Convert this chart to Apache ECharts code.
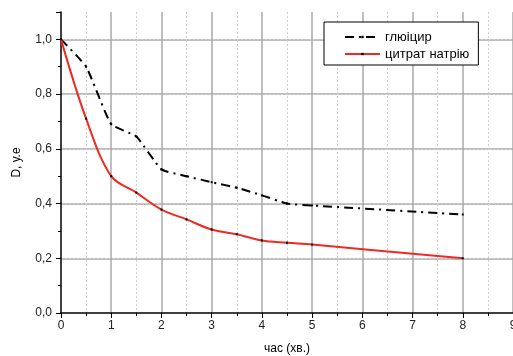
<!DOCTYPE html>
<html>
<head>
<meta charset="utf-8">
<script src="https://cdn.jsdelivr.net/npm/echarts@6/dist/echarts.min.js"></script>
<style>
  html, body { margin: 0; padding: 0; background: #fff; }
  #chart { width: 513px; height: 356px; }
</style>
</head>
<body>
<div id="chart"></div>
<script>
// час (хв.)
const times = [0, 0.5, 1, 1.5, 2, 2.5, 3, 3.5, 4, 4.5, 5, 8];
// D, у.е
const glycerol = [1.0, 0.9, 0.69, 0.645, 0.525, 0.5, 0.478, 0.458, 0.43, 0.4, 0.393, 0.36];
const citrate = [1.0, 0.71, 0.5, 0.44, 0.378, 0.342, 0.305, 0.288, 0.265, 0.257, 0.25, 0.2];
const seriesNames = ["глюіцир", "цитрат натрію"];

const font = "Liberation Sans, Arial, sans-serif";
const pairs = (ys) => times.map((t, i) => [t, ys[i]]);
const fmt = (v) => (Math.abs(v * 5 - Math.round(v * 5)) < 1e-6 ? v.toFixed(1).replace(".", ",") : "");

const chart = echarts.init(document.getElementById("chart"));

chart.setOption({
  animation: false,
  grid: { left: 61, right: 0, top: 12, bottom: 43, outerBoundsMode: "none" },
  legend: {
    orient: "vertical",
    left: 324,
    top: 22,
    padding: [8, 9, 4, 20],
    itemGap: 3,
    itemWidth: 35,
    itemHeight: 3,
    backgroundColor: "#fff",
    borderColor: "#000",
    borderWidth: 1,
    textStyle: { fontFamily: font, fontSize: 13, color: "#000", lineHeight: 14 },
    data: seriesNames
  },
  xAxis: {
    type: "value",
    min: 0,
    max: 9,
    interval: 1,
    name: "час (хв.)",
    nameLocation: "middle",
    nameGap: 30,
    nameTextStyle: { fontFamily: font, fontSize: 12, color: "#000" },
    axisLine: { show: true, onZero: false, lineStyle: { color: "#000", width: 1.5 } },
    axisTick: { show: true, length: 5, lineStyle: { color: "#000" } },
    minorTick: { show: true, splitNumber: 2, length: 3, lineStyle: { color: "#000" } },
    axisLabel: { fontFamily: font, fontSize: 12, color: "#222", margin: 7 },
    splitLine: { show: true, showMinLine: false, lineStyle: { color: "#a8a8a8", width: 1.5 } },
    minorSplitLine: { show: true, lineStyle: { color: "#cfcfcf", type: [2, 2], width: 1 } }
  },
  yAxis: [
    {
      type: "value",
      min: 0,
      max: 1.1,
      interval: 0.2,
      name: "D, у.е",
      nameLocation: "middle",
      nameGap: 38,
      nameTextStyle: { fontFamily: font, fontSize: 12, color: "#000" },
      axisLine: { show: true, onZero: false, lineStyle: { color: "#000", width: 1.5 } },
      axisTick: { show: true, length: 5, lineStyle: { color: "#000" } },
      axisLabel: { fontFamily: font, fontSize: 12, color: "#222", margin: 9, formatter: fmt },
      splitLine: { show: true, showMinLine: false, showMaxLine: false, lineStyle: { color: "#a8a8a8", width: 1.5 } }
    },
    {
      type: "value",
      position: "left",
      min: 0,
      max: 1.1,
      interval: 0.1,
      axisLine: { show: false },
      axisTick: { show: true, length: 3, lineStyle: { color: "#000" } },
      axisLabel: { show: false },
      splitLine: {
        show: true,
        showMinLine: false,
        showMaxLine: false,
        lineStyle: { color: ["transparent", "#cfcfcf"], type: [2, 2], width: 1 }
      }
    }
  ],
  series: [
    {
      name: seriesNames[0],
      type: "line",
      data: pairs(glycerol),
      smooth: 0.15,
      symbol: "rect",
      symbolSize: 2,
      itemStyle: { color: "#000" },
      lineStyle: { color: "#000", width: 2, type: [9, 5, 2, 5] },
      z: 3
    },
    {
      name: seriesNames[1],
      type: "line",
      data: pairs(citrate),
      smooth: 0.35,
      symbol: "rect",
      symbolSize: 2,
      itemStyle: { color: "#000" },
      lineStyle: { color: "#ee2a22", width: 2 },
      z: 4
    }
  ]
});
</script>
</body>
</html>
